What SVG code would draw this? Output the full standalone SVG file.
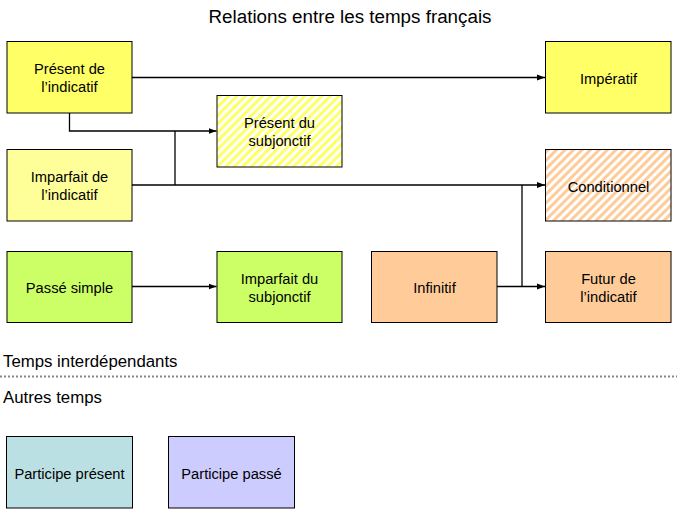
<svg xmlns="http://www.w3.org/2000/svg" width="677" height="515" viewBox="0 0 677 515">
<style>
.box{stroke:#000;stroke-width:1}
.t{font-family:"Liberation Sans",Arial,sans-serif;font-size:14.7px;fill:#000;text-anchor:middle}
.h{font-family:"Liberation Sans",Arial,sans-serif;font-size:16.8px;fill:#000}
.c{fill:none;stroke:#000;stroke-width:1.3}
</style>
<defs>
<pattern id="hy" patternUnits="userSpaceOnUse" width="6" height="6" patternTransform="rotate(45)">
<rect width="6" height="6" fill="#fff"/>
<rect width="3" height="6" fill="#ffff66"/>
</pattern>
<pattern id="ho" patternUnits="userSpaceOnUse" width="6" height="6" patternTransform="rotate(45)">
<rect width="6" height="6" fill="#fff"/>
<rect width="3" height="6" fill="#ffcc99"/>
</pattern>
<marker id="ar" markerWidth="8" markerHeight="8" refX="8" refY="4" orient="auto" markerUnits="userSpaceOnUse">
<path d="M0,1 L8,4 L0,7 Z" fill="#000"/>
</marker>
</defs>
<rect width="677" height="515" fill="#fff"/>
<text x="350" y="22.5" font-family="Liberation Sans,Arial,sans-serif" font-size="18.8" text-anchor="middle">Relations entre les temps français</text>

<g id="connectors">
<path class="c" d="M132,77.5 H545" marker-end="url(#ar)"/>
<path class="c" d="M69.5,113 V131 H216.5" marker-end="url(#ar)"/>
<path class="c" d="M132,185 H545" marker-end="url(#ar)"/>
<path class="c" d="M175,131 V185"/>
<path class="c" d="M497,286.5 H545" marker-end="url(#ar)"/>
<path class="c" d="M522,185 V286.5"/>
<path class="c" d="M132,286.5 H216.5" marker-end="url(#ar)"/>
</g>

<g id="present-indicatif"><rect class="box" x="7" y="41.5" width="125" height="71.5" fill="#ffff66"/><text class="t" x="69.5" y="74">Présent de</text><text class="t" x="69.5" y="92">l’indicatif</text></g>
<g id="imparfait-indicatif"><rect class="box" x="7" y="149.5" width="125" height="71.5" fill="#ffff99"/><text class="t" x="69.5" y="182">Imparfait de</text><text class="t" x="69.5" y="200">l’indicatif</text></g>
<g id="passe-simple"><rect class="box" x="7" y="251.5" width="125" height="71" fill="#ccff66"/><text class="t" x="69.5" y="293">Passé simple</text></g>
<g id="present-subjonctif"><rect class="box" x="217" y="95.5" width="125" height="71.5" fill="url(#hy)"/><text class="t" x="279.5" y="128">Présent du</text><text class="t" x="279.5" y="146">subjonctif</text></g>
<g id="imparfait-subjonctif"><rect class="box" x="217" y="251.5" width="125" height="71" fill="#ccff66"/><text class="t" x="279.5" y="284">Imparfait du</text><text class="t" x="279.5" y="302">subjonctif</text></g>
<g id="infinitif"><rect class="box" x="371.5" y="251.5" width="125.5" height="71" fill="#ffcc99"/><text class="t" x="434.5" y="293">Infinitif</text></g>
<g id="imperatif"><rect class="box" x="545.5" y="41.5" width="125.5" height="71.5" fill="#ffff66"/><text class="t" x="608.5" y="84">Impératif</text></g>
<g id="conditionnel"><rect class="box" x="545.5" y="149.5" width="125.5" height="71.5" fill="url(#ho)"/><text class="t" x="608.5" y="191.5">Conditionnel</text></g>
<g id="futur"><rect class="box" x="545.5" y="251.5" width="125.5" height="71" fill="#ffcc99"/><text class="t" x="608.5" y="284">Futur de</text><text class="t" x="608.5" y="302">l’indicatif</text></g>

<text class="h" x="3" y="366.5">Temps interdépendants</text>
<line x1="0" y1="376.5" x2="677" y2="376.5" stroke="#888" stroke-width="2" stroke-dasharray="2 2"/>
<text class="h" x="3" y="403">Autres temps</text>

<g id="participe-present"><rect class="box" x="6.5" y="436.5" width="126" height="71.5" fill="#bbe0e3"/><text class="t" x="69.5" y="478.5">Participe présent</text></g>
<g id="participe-passe"><rect class="box" x="168.5" y="436.5" width="126" height="71.5" fill="#ccccff"/><text class="t" x="231.5" y="478.5">Participe passé</text></g>
</svg>
